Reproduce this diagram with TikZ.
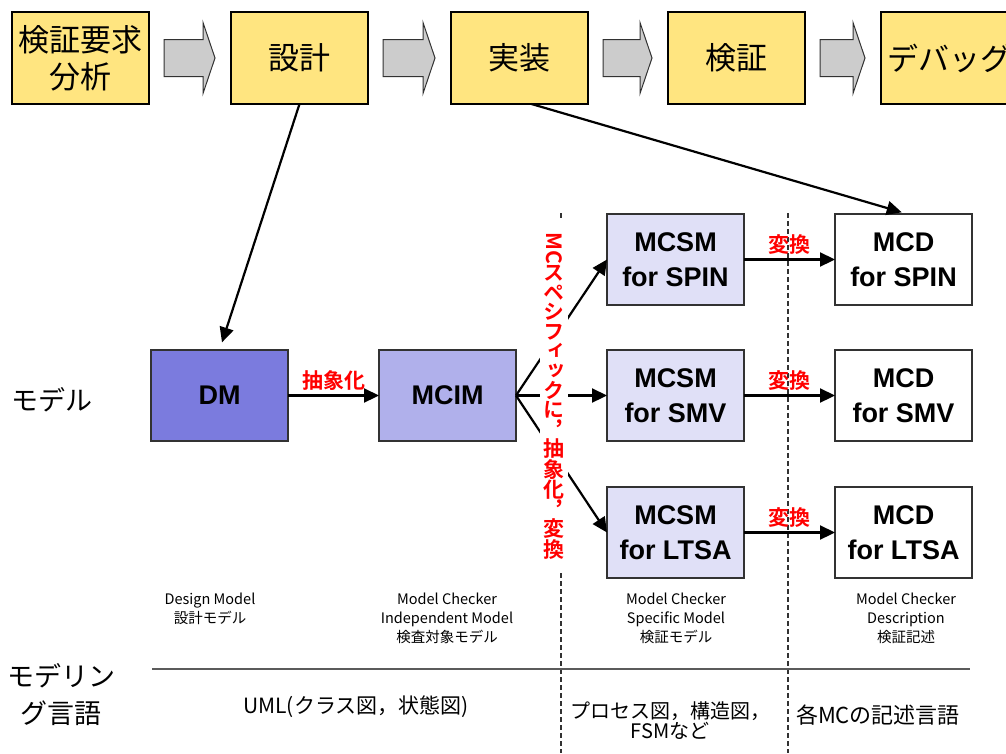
\documentclass[tikz,border=0pt]{standalone}
\usepackage{fontspec}
\setmainfont{Liberation Sans}
\newfontfamily\jp{Noto Sans CJK JP}[BoldFont={Noto Sans CJK JP Bold}]
\newfontfamily\jpv{Noto Sans CJK JP}[BoldFont={Noto Sans CJK JP Bold},RawFeature=+vert]
\usetikzlibrary{positioning}
\usetikzlibrary{calc}
\usetikzlibrary{arrows.meta}

\definecolor{stageyellow}{RGB}{255,229,128}
\definecolor{dmblue}{RGB}{123,123,222}
\definecolor{mcimblue}{RGB}{176,176,235}
\definecolor{mcsmblue}{RGB}{224,224,247}
\definecolor{arrowgray}{RGB}{204,204,204}
\definecolor{boxgray}{RGB}{50,50,50}

\begin{document}
\begin{tikzpicture}[x=1pt,y=-1pt,>={Triangle[length=15pt,width=14pt]},
	line width=2.2pt,node distance=91pt,
	stage box/.style={draw=black,line width=2.5pt,fill=stageyellow,minimum width=137pt,
		minimum height=92pt,inner sep=0pt,outer sep=0pt,align=center,font=\jp\fontsize{31}{37}\selectfont},
	model box/.style={draw=boxgray,line width=1.5pt,minimum width=137pt,minimum height=91pt,
		inner sep=0pt,outer sep=0pt,align=center,font=\bfseries\fontsize{27}{35}\selectfont},
	red label/.style={text=red,font=\jp\bfseries\fontsize{21}{24}\selectfont,inner sep=4pt},
	note/.style={align=center,anchor=north,inner sep=2pt,font=\jp\fontsize{14.5}{19}\selectfont},
	big note/.style={align=center,font=\jp\fontsize{21}{24}\selectfont},
	block arrow/.style={draw=boxgray,line width=1pt,fill=arrowgray},
	divider/.style={draw=boxgray,line width=1.3pt,dash pattern=on 5pt off 3pt}]
	
	\useasboundingbox (0,0) rectangle (1006,753);
	
	% process steps
	\node[stage box] (req) at (80.5,58) {検証要求\\分析};
	\node[stage box] (des) [right=82pt of req] {設計};
	\node[stage box] (imp) [right=83pt of des] {実装};
	\node[stage box] (ver) [right=80pt of imp] {検証};
	\node[stage box] (dbg) [right=76pt of ver] {デバッグ};
	
	\foreach \a/\b in {req/des,des/imp,imp/ver,ver/dbg}
	\draw[block arrow] ($(\a.east)+(15,-18.5)$) -- ($(\b.west)+(-28,-18.5)$)
	-- ($(\b.west)+(-28,-35.5)$) -- ($(\b.west)+(-16,0)$) -- ($(\b.west)+(-28,35.5)$)
	-- ($(\b.west)+(-28,18.5)$) -- ($(\a.east)+(15,18.5)$) -- cycle;
	
	% models
	\node[model box,fill=dmblue] (dm) at (219.5,395.5) {DM};
	\node[model box,fill=mcimblue] (mcim) [right=of dm] {MCIM};
	\node[model box,fill=mcsmblue] (smv) [right=of mcim] {MCSM\\for SMV};
	\node[model box,fill=mcsmblue] (spin) [above=45pt of smv] {MCSM\\for SPIN};
	\node[model box,fill=mcsmblue] (ltsa) [below=46pt of smv] {MCSM\\for LTSA};
	\node[model box,fill=white] (dspin) [right=of spin] {MCD\\for SPIN};
	\node[model box,fill=white] (dsmv) [right=of smv] {MCD\\for SMV};
	\node[model box,fill=white] (dltsa) [right=of ltsa] {MCD\\for LTSA};
	
	\draw[divider] (561,213) -- (561,753);
	\draw[divider] (788,213) -- (788,753);
	\draw[draw=boxgray!80,line width=1.2pt] (152,669) -- (970,669);
	
	\draw[->,shorten >=8pt] (des.south) -- (dm.north);
	\draw[->,shorten >=6pt] ($(imp.south)+(12,0)$) -- ($(dspin.north)+(4,0)$);
	
	\draw[->] (dm) -- node[red label,above] {抽象化} (mcim);
	\draw[->] (mcim.east) -- (spin.west);
	\draw[->] (mcim.east) -- (smv.west);
	\draw[->] (mcim.east) -- (ltsa.west);
	\foreach \s/\d in {spin/dspin,smv/dsmv,ltsa/dltsa}
	\draw[->] (\s) -- node[red label,above] {変換} (\d);
	
	\node[fill=white,inner sep=0pt,minimum width=28pt,minimum height=350pt,text=red,align=center,
	font=\jpv\bfseries\fontsize{21}{19.6}\selectfont] (vt) at (554,396)
	{\rotatebox{-90}{MC}\\ス\\ペ\\シ\\フ\\ィ\\ッ\\ク\\に\\，\\抽\\象\\化\\，\\変\\換};
	
	% row titles
	\node[big note,font=\jp\fontsize{27}{37}\selectfont] (model) at (52,400) {モデル};
	\node[big note,font=\jp\fontsize{27}{37}\selectfont] (lang) at (61,695) {モデリン\\グ言語};
	
	\node[note] (dmnote) at (210,590) {Design Model\\設計モデル};
	\node[note] (mcimnote) at (447,590) {Model Checker\\Independent Model\\検査対象モデル};
	\node[note] (mcsmnote) at (676,590) {Model Checker\\Specific Model\\検証モデル};
	\node[note] (mcdnote) at (906,590) {Model Checker\\Description\\検証記述};
	
	\node[big note] (umlnote) at (356,707) {UML(クラス図，状態図)};
	\node[big note,font=\jp\fontsize{20}{20}\selectfont] (procnote) at (670,721) {プロセス図，構造図，\\FSMなど};
	\node[big note,font=\jp\fontsize{22}{24}\selectfont] (mcnote) at (878,715) {各MCの記述言語};
\end{tikzpicture}
\end{document}
